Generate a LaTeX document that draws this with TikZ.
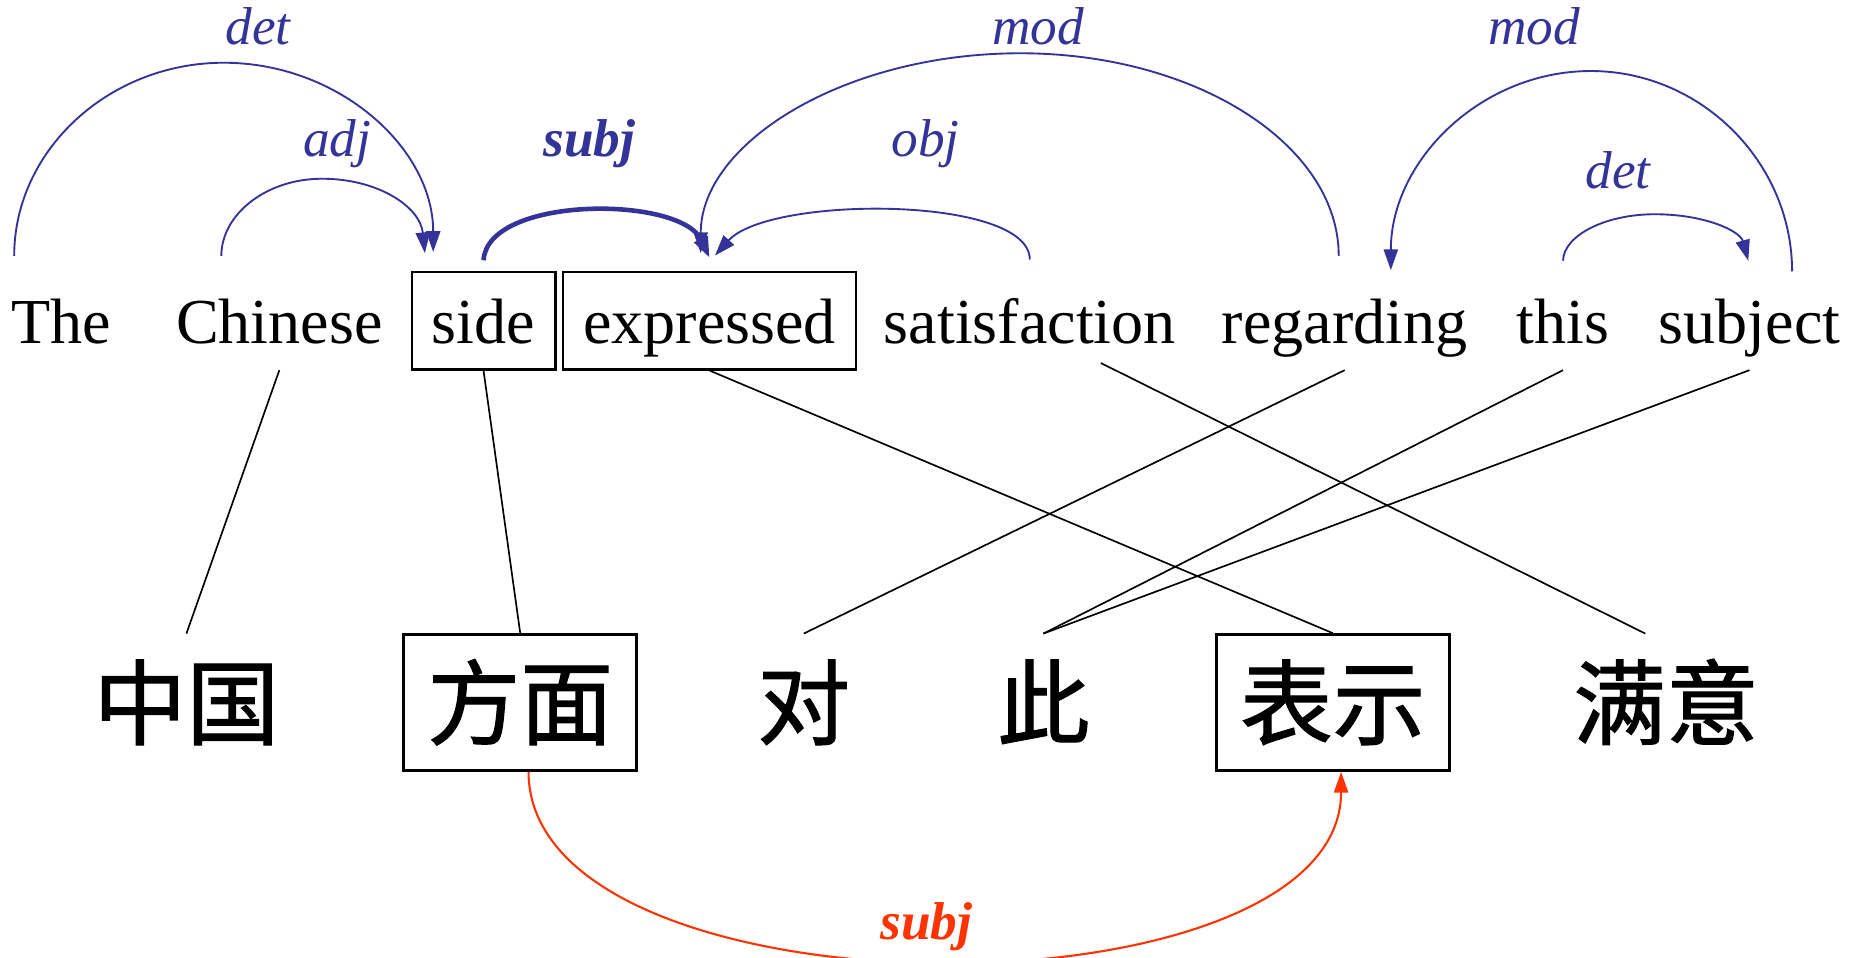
\documentclass[tikz,border=0pt]{standalone}
\usepackage{fontspec}
\setmainfont{Liberation Serif}
\newfontfamily\cjk[FakeBold=1.2]{Noto Sans CJK SC}
\usetikzlibrary{arrows.meta}
\definecolor{dblue}{RGB}{51,51,153}
\definecolor{dred}{RGB}{255,51,0}
\begin{document}
\begin{tikzpicture}[x=0.01cm,y=-0.01cm,
  en/.style={font=\fontsize{15.4pt}{18pt}\selectfont, text height=0.6cm, text depth=0.22cm, inner ysep=0pt, inner xsep=0.17cm, anchor=base},
  zh/.style={font=\cjk\fontsize{22.3pt}{25pt}\selectfont, text height=19.6pt, text depth=2.7pt, minimum height=1.15cm, inner ysep=0pt, inner xsep=0.2cm},
  wbox/.style={draw, line width=0.6pt},
  lab/.style={text=dblue, font=\fontsize{12.8pt}{15pt}\selectfont\itshape, anchor=base, inner sep=0pt},
  labb/.style={lab, font=\fontsize{12.8pt}{15pt}\selectfont\bfseries\itshape},
  dep/.style={draw=dblue, color=dblue, line width=0.45pt, -{Triangle[length=5pt,width=3.4pt]}},
  algn/.style={draw, line width=0.4pt}
]
\useasboundingbox (0,0) rectangle (1568,809);

% English words
\node[en] (the) at (52,290) {The};
\node[en] (chi) at (236,290) {Chinese};
\node[en,wbox] (side) at (408.5,290) {side};
\node[en,wbox] (exp) at (599.5,290) {expressed};
\node[en] (sat) at (870,290) {satisfaction};
\node[en] (reg) at (1136,290) {regarding};
\node[en] (this) at (1320.5,290) {this};
\node[en] (subj) at (1478,290) {subject};

% Chinese words
\node[zh] (zg) at (157.5,593.5) {中国};
\node[zh,wbox] (fm) at (439.5,593.5) {方面};
\node[zh] (dui) at (679,593.5) {对};
\node[zh] (ci) at (881.5,593.5) {此};
\node[zh,wbox] (bs) at (1126,593.5) {表示};
\node[zh] (my) at (1407.5,593.5) {满意};

% alignment lines
\draw[algn] (chi.south) -- (zg.north);
\draw[algn] (side.south) -- (fm.north);
\draw[algn] (exp.south) -- (bs.north);
\draw[algn] ([xshift=0.6cm,yshift=0.06cm]sat.south) -- ([xshift=-0.175cm]my.north);
\draw[algn] (reg.south) -- (dui.north);
\draw[algn] (this.south) -- (ci.north);
\draw[algn] (subj.south) -- (ci.north);

% English dependency arcs
\draw[dep] ([xshift=-0.40cm,yshift=0.13cm]the.north) .. controls (12,127) and (92,53) .. (189,53)
  .. controls (286,53) and (366,125) .. ([xshift=-0.425cm,yshift=0.16cm]side.north);
\draw[dep] ([xshift=-0.49cm,yshift=0.13cm]chi.north) .. controls (187,181) and (225,151) .. (272,151)
  .. controls (320,151) and (355,175) .. ([xshift=-0.495cm,yshift=0.15cm]side.north);
\draw[dep, line width=1.1pt] ([yshift=0.09cm]side.north) .. controls (412,165) and (575,165) .. ([yshift=0.11cm]exp.north);
\draw[dep] ([yshift=0.10cm]sat.north) .. controls (870,165) and (650,165) .. ([xshift=0.045cm,yshift=0.13cm]exp.north);
\draw[dep] ([xshift=-0.05cm,yshift=0.13cm]reg.north) .. controls (1131,122) and (1010,45) .. (862,45)
  .. controls (713,45) and (592,121) .. ([xshift=-0.075cm,yshift=0.15cm]exp.north);
\draw[dep] ([xshift=0.36cm]subj.north) .. controls (1514,137) and (1437,60) .. (1344,60)
  .. controls (1251,60) and (1175,136) .. ([xshift=0.39cm,yshift=0.01cm]reg.north);
\draw[dep] ([yshift=0.09cm]this.north) .. controls (1321,199) and (1356,181) .. (1398,181)
  .. controls (1440,181) and (1470,195) .. ([xshift=-0.01cm,yshift=0.09cm]subj.north);

% Chinese dependency arc
\draw[draw=dred, color=dred, line width=0.5pt, -{Triangle[length=5pt,width=3.4pt]}]
  ([xshift=0.07cm]fm.south) .. controls (447,865) and (1133,865) .. ([xshift=0.07cm]bs.south);

% labels
\node[lab] (l1) at (218,38) {det};
\node[lab] (l2) at (285,132) {adj};
\node[labb] (l3) at (498,132) {subj};
\node[lab] (l4) at (782,132) {obj};
\node[lab] (l5) at (877,38) {mod};
\node[lab] (l6) at (1296,38) {mod};
\node[lab] (l7) at (1367,159) {det};
\node[labb, text=dred] (l8) at (782.6,794) {subj};
\end{tikzpicture}
\end{document}
